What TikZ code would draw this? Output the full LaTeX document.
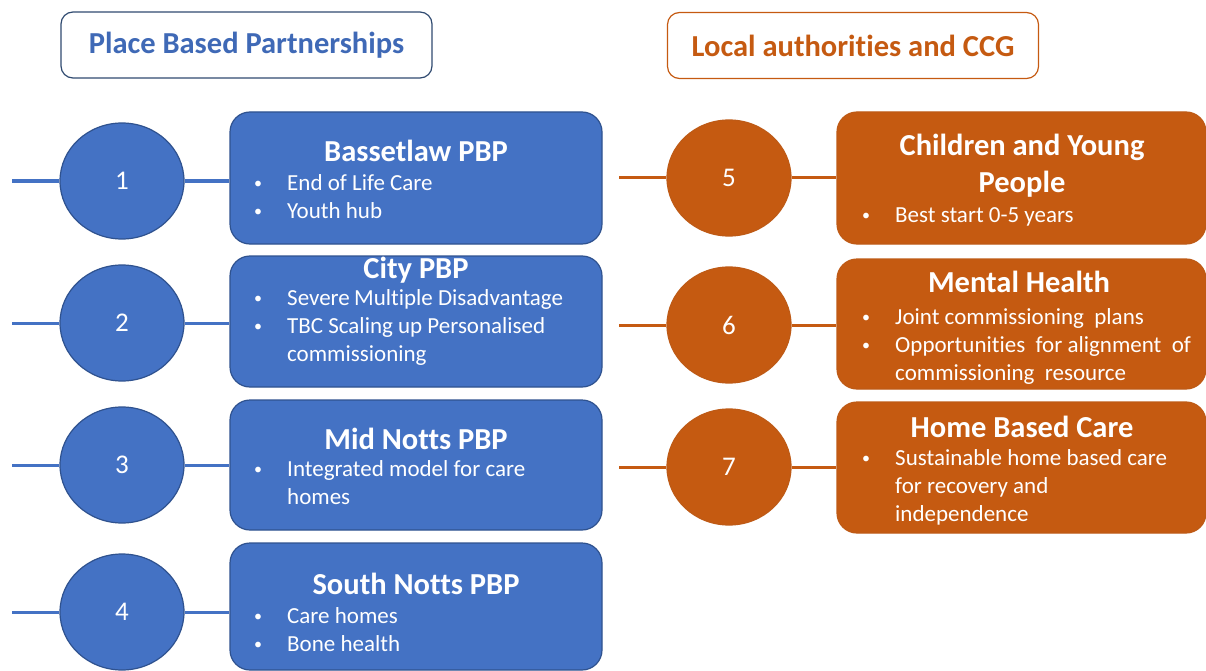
\documentclass[tikz,border=0pt]{standalone}
\usepackage{fontspec}
\setmainfont[Ligatures=NoCommon]{Carlito}
\usepackage{tikz}
\usetikzlibrary{shapes.geometric}
\definecolor{pbpblue}{HTML}{4472C4}
\definecolor{pbpedge}{HTML}{2F528F}
\definecolor{pbptext}{HTML}{3F69B6}
\definecolor{pbphead}{HTML}{2F4A70}
\definecolor{laorange}{HTML}{C55A11}
\definecolor{laedge}{HTML}{BE5A16}

\newcommand{\bul}{\makebox[34pt][l]{\hspace*{1pt}\raisebox{1.5pt}{\fontsize{16}{16}\selectfont\textbullet}}}
\newcommand{\nob}{\hspace*{34pt}}

\begin{document}
\begin{tikzpicture}[x=1pt, y=-1pt,
	pbpnum/.style={ellipse, draw=pbpedge, fill=pbpblue, line width=1.2pt, minimum width=124pt, minimum height=116pt, text=white, font=\fontsize{27}{30}\selectfont},
	lanum/.style={pbpnum, draw=laedge, fill=laorange},
	pbpbox/.style={rectangle, rounded corners=20pt, draw=pbpedge, fill=pbpblue, line width=1.2pt, minimum width=372pt},
	labox/.style={pbpbox, draw=laedge, fill=laorange, minimum width=369pt},
	headbox/.style={rectangle, rounded corners=12pt, line width=1.2pt, minimum width=371pt, minimum height=66pt, font=\bfseries\fontsize{30.5}{34}\selectfont},
	boxtitle/.style={anchor=north, inner sep=0pt, align=center, text=white, font=\bfseries\fontsize{30.5}{37}\selectfont},
	boxlist/.style={anchor=north west, inner sep=0pt, align=left, text=white, font=\fontsize{23}{28}\selectfont},
	pbpline/.style={draw=pbpblue, line width=3pt},
	laline/.style={draw=laorange, line width=3pt}]
	\useasboundingbox (0,0) rectangle (1206,671);
	% Headings
	\node[headbox, draw=pbphead, text=pbptext] (h1) at (246.5,45) {Place Based Partnerships};
	\node[headbox, draw=laorange, text=laorange] (h2) at (853,45.5) {Local authorities and CCG};
	% Place based partnerships
	\node[pbpnum] (c1) at (122,181) {1};
	\node[pbpnum] (c2) at (122,323) {2};
	\node[pbpnum] (c3) at (122,465) {3};
	\node[pbpnum] (c4) at (122,612) {4};
	\node[pbpbox, minimum height=132pt] (b1) at (416,178) {};
	\node[pbpbox, minimum height=131pt] (b2) at (416,321.5) {};
	\node[pbpbox, minimum height=130pt] (b3) at (416,465) {};
	\node[pbpbox, minimum height=127pt] (b4) at (416,606.5) {};
	\node[boxtitle] (t1) at (416,135) {\strut Bassetlaw PBP};
	\node[boxlist] (l1) at (253,170.4) {\strut\bul End of Life Care\\\strut\bul Youth hub};
	\node[boxtitle] (t2) at (416,252) {\strut City PBP};
	\node[boxlist] (l2) at (253,285.4) {\strut\bul Severe\hspace{-1pt} Multiple Disadvantage\\\strut\bul TBC Scaling up Personalised\\\strut\nob commissioning};
	\node[boxtitle] (t3) at (416,423) {\strut Mid Notts PBP};
	\node[boxlist] (l3) at (253,456.4) {\strut\bul Integrated model for care\\\strut\nob homes};
	\node[boxtitle] (t4) at (416,568) {\strut South Notts PBP};
	\node[boxlist] (l4) at (253,603.4) {\strut\bul Care homes\\\strut\bul Bone health};
	% Local authorities and CCG
	\node[lanum] (c5) at (729,178) {5};
	\node[lanum] (c6) at (729,325) {6};
	\node[lanum] (c7) at (729,467) {7};
	\node[labox, minimum height=132pt] (b5) at (1021.5,178) {};
	\node[labox, minimum height=130pt] (b6) at (1021.5,324) {};
	\node[labox, minimum height=131pt] (b7) at (1021.5,467.5) {};
	\node[boxtitle] (t5) at (1022,129) {\strut Children and Young\\\strut People};
	\node[boxlist] (l5) at (861,202.4) {\strut\bul Best start 0-5 years};
	\node[boxtitle] (t6) at (1019,266) {\strut Mental Health};
	\node[boxlist] (l6) at (861,304.4) {\strut\bul Joint commissioning\ \ plans\\\strut\bul Opportunities\ \ for alignment\ \ of\\\strut\nob commissioning\ \ resource};
	\node[boxtitle] (t7) at (1022,411) {\strut Home Based Care};
	\node[boxlist] (l7) at (861,445.4) {\strut\bul Sustainable home based care\\\strut\nob for recovery and\\\strut\nob independence};
	% Free ends of the connectors
	\coordinate (e1) at (12,181);
	\coordinate (e2) at (12,323);
	\coordinate (e3) at (12,465);
	\coordinate (e4) at (12,612);
	\coordinate (e5) at (619,178);
	\coordinate (e6) at (619,325);
	\coordinate (e7) at (619,467);
	% Connectors
	\draw[pbpline] (e1) -- (c1) (c1) -- (c1 -| b1.west);
	\draw[pbpline] (e2) -- (c2) (c2) -- (c2 -| b2.west);
	\draw[pbpline] (e3) -- (c3) (c3) -- (c3 -| b3.west);
	\draw[pbpline] (e4) -- (c4) (c4) -- (c4 -| b4.west);
	\draw[laline] (e5) -- (c5) (c5) -- (c5 -| b5.west);
	\draw[laline] (e6) -- (c6) (c6) -- (c6 -| b6.west);
	\draw[laline] (e7) -- (c7) (c7) -- (c7 -| b7.west);
\end{tikzpicture}
\end{document}
